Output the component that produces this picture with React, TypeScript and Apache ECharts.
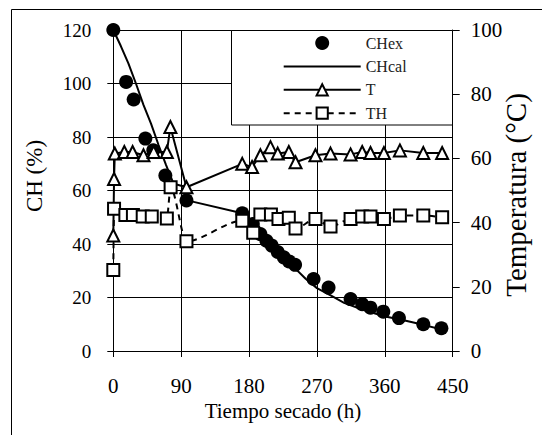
import React, { useEffect, useRef } from "react";
import * as echarts from "echarts";

const FONT = "'Liberation Serif', 'Times New Roman', serif";

// CH experimental (%)
const chexHours = [0, 17, 27, 42.5, 53, 69, 97, 171, 185, 195, 203, 210, 218, 226, 233, 241, 265.5, 285.4, 314.6, 330, 341, 358, 378.7, 411, 435];
const chexValues = [120, 100.6, 94, 79.4, 75, 65.6, 56.3, 51.5, 47.5, 43.7, 41.2, 39.4, 37, 35, 33.5, 32.2, 26.9, 23.7, 19.4, 17.5, 16.2, 14.7, 12.3, 10, 8.5];

// CH calculated (%)
const chcalHours = [0, 10, 20, 30, 40, 50, 60, 70, 80, 90, 96, 98, 171, 185, 200, 215, 237, 255, 270, 290, 306, 330, 359, 385, 408, 436];
const chcalValues = [120, 114, 107.5, 100, 92, 85, 77, 69.5, 62.5, 61.8, 61.5, 56.3, 51.5, 46.5, 42, 38, 32, 27, 23.5, 20.5, 18, 15.5, 13, 11.5, 10, 8];

// T (°C)
const tHours = [0, 1, 2, 14.6, 25.6, 40, 53.5, 71, 75.7, 97, 171, 184, 195, 208.4, 218, 232.7, 241.6, 268, 288, 314.6, 330, 341, 358.8, 380, 411, 436];
const tValues = [36, 53.6, 61.5, 62, 62, 61, 62, 62, 69.8, 51, 58.3, 57.3, 61, 63.5, 61.5, 62, 58.8, 61, 61.5, 61.25, 62, 61.7, 61.7, 62.5, 61.7, 61.7];

// TH (°C)
const thHours = [0, 1, 16, 26, 39, 51, 71, 76, 97, 171, 185.5, 195, 209, 219, 232.7, 241.6, 268, 288, 314.6, 330, 341, 358.8, 380, 411, 436];
const thValues = [25.2, 44.3, 42.4, 42.4, 41.9, 41.9, 41.3, 51, 34.2, 40.6, 36.8, 42.5, 42.5, 41.1, 41.5, 38.2, 41.1, 38.75, 41.1, 41.9, 41.9, 41.1, 42.2, 42.2, 41.7];

const xTicks = { min: 0, max: 450, interval: 90 };
const yLeftTicks = { min: 0, max: 120, interval: 20 };
const yRightTicks = { min: 0, max: 100, interval: 20 };

const leftAxisTitle = "CH (%)";
const rightAxisTitle = "Temperatura (°C)";
const bottomAxisTitle = "Tiempo secado (h)";

const pairs = (xs: number[], ys: number[]) => xs.map((x, i) => [x, ys[i]]);

export default function App() {
  const ref = useRef<HTMLDivElement>(null);
  useEffect(() => {
    const chart = echarts.init(ref.current!, null, { renderer: "svg" });
    const black = "#000";
    chart.setOption({
      animation: false,
      backgroundColor: "#fff",
      textStyle: { fontFamily: FONT },
      grid: { left: 113.3, right: 89.3, top: 30, bottom: 84 },
      legend: {
        orient: "vertical",
        left: 282.7,
        top: 35,
        padding: 0,
        itemWidth: 77,
        itemHeight: 14,
        itemGap: 7.4,
        z: 6,
        textStyle: { fontFamily: FONT, fontSize: 16, color: "#222" },
        data: [
          { name: "CHex" },
          { name: "CHcal", itemStyle: { opacity: 0 } },
          { name: "T" },
          { name: "TH" },
        ],
      },
      graphic: [
        {
          type: "rect",
          z: 3,
          shape: { x: 231.5, y: 30.5, width: 221, height: 94.5 },
          style: { fill: "#fff", stroke: black, lineWidth: 1 },
        },
        {
          type: "rect",
          z: 3,
          shape: { x: 11.5, y: 9.5, width: 700, height: 700 },
          style: { fill: "none", stroke: black, lineWidth: 1 },
        },
        {
          type: "text",
          z: 5,
          x: 34,
          y: 176,
          rotation: Math.PI / 2,
          style: {
            text: leftAxisTitle,
            fill: black,
            font: `23px ${FONT}`,
            align: "center",
            verticalAlign: "middle",
          },
        },
        {
          type: "text",
          z: 5,
          x: 516,
          y: 195,
          rotation: Math.PI / 2,
          style: {
            text: rightAxisTitle,
            fill: black,
            font: `29px ${FONT}`,
            align: "center",
            verticalAlign: "middle",
          },
        },
      ],
      xAxis: [
        {
          type: "value",
          ...xTicks,
          name: bottomAxisTitle,
          nameLocation: "middle",
          nameGap: 40,
          nameTextStyle: { fontFamily: FONT, fontSize: 21, color: black },
          axisLine: { show: true, onZero: false, lineStyle: { color: black, width: 1 } },
          axisTick: { show: true, length: 6, lineStyle: { color: black } },
          axisLabel: { fontFamily: FONT, fontSize: 21, color: black, margin: 24 },
          splitLine: { show: true, lineStyle: { color: black, width: 1 } },
        },
        {
          type: "value",
          ...xTicks,
          position: "bottom",
          axisLine: { show: false, onZero: false },
          axisTick: { show: true, inside: true, length: 6, lineStyle: { color: black } },
          axisLabel: { show: false },
          splitLine: { show: false },
        },
      ],
      yAxis: [
        {
          type: "value",
          ...yLeftTicks,
          position: "left",
          axisLine: { show: true, onZero: false, lineStyle: { color: black, width: 1 } },
          axisTick: { show: true, length: 6, lineStyle: { color: black } },
          axisLabel: { fontFamily: FONT, fontSize: 19, color: black, margin: 22 },
          splitLine: { show: true, lineStyle: { color: black, width: 1 } },
        },
        {
          type: "value",
          ...yRightTicks,
          position: "right",
          axisLine: { show: true, onZero: false, lineStyle: { color: black, width: 1 } },
          axisTick: { show: true, length: 7, lineStyle: { color: black } },
          axisLabel: { fontFamily: FONT, fontSize: 21, color: black, margin: 18 },
          splitLine: { show: false },
        },
      ],
      series: [
        {
          name: "CHex",
          type: "scatter",
          yAxisIndex: 0,
          symbol: "circle",
          symbolSize: 14,
          itemStyle: { color: black, opacity: 1 },
          data: pairs(chexHours, chexValues),
          z: 2,
        },
        {
          name: "CHcal",
          type: "line",
          yAxisIndex: 0,
          symbol: "none",
          showSymbol: false,
          lineStyle: { color: black, width: 2 },
          itemStyle: { color: black },
          data: pairs(chcalHours, chcalValues),
          z: 2,
        },
        {
          name: "T",
          type: "line",
          yAxisIndex: 1,
          symbol: "triangle",
          symbolSize: 12,
          lineStyle: { color: black, width: 2 },
          itemStyle: { color: "#fff", borderColor: black, borderWidth: 2 },
          data: pairs(tHours, tValues),
          z: 3,
        },
        {
          name: "TH",
          type: "line",
          yAxisIndex: 1,
          symbol: "rect",
          symbolSize: 12,
          smooth: 0.3,
          smoothMonotone: "x",
          lineStyle: { color: black, width: 2, type: [6, 5] },
          itemStyle: { color: "#fff", borderColor: black, borderWidth: 2 },
          data: pairs(thHours, thValues),
          z: 3,
        },
      ],
    });
    return () => chart.dispose();
  }, []);
  return (
    <div
      ref={ref}
      style={{ position: "fixed", left: 0, top: 0, width: 542, height: 435, background: "#fff" }}
    />
  );
}
